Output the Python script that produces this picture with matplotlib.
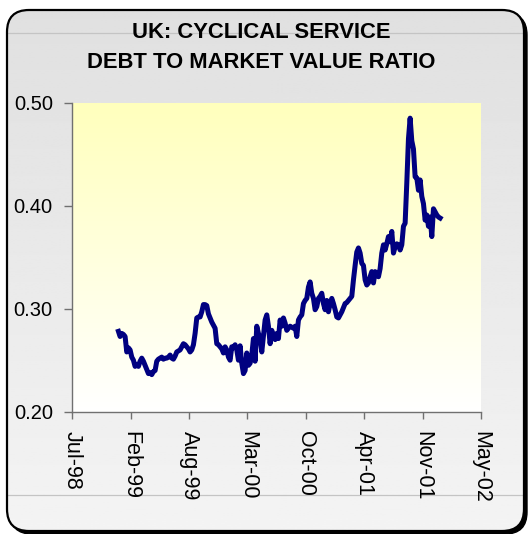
import numpy as np
import pandas as pd
import matplotlib
matplotlib.use("Agg")
import matplotlib.pyplot as plt
import matplotlib.dates as mdates
from matplotlib.patches import FancyBboxPatch
from matplotlib.lines import Line2D

plt.rcParams['font.family'] = ['Liberation Sans', 'DejaVu Sans']

title_lines = ["UK: CYCLICAL SERVICE", "DEBT TO MARKET VALUE RATIO"]

# debt / market value ratio, roughly weekly from end of Dec-98 to early Jan-02
ratio = [
    0.278, 0.273, 0.276, 0.275, 0.273, 0.258, 0.262, 0.260, 0.253, 0.250,
    0.244, 0.246, 0.244, 0.249, 0.252, 0.249, 0.245, 0.241, 0.237, 0.238,
    0.236, 0.239, 0.240, 0.249, 0.251, 0.252, 0.253, 0.251, 0.252, 0.252,
    0.253, 0.255, 0.252, 0.251, 0.254, 0.258, 0.259, 0.260, 0.263, 0.266,
    0.265, 0.263, 0.261, 0.258, 0.260, 0.265, 0.276, 0.291, 0.292, 0.292,
    0.297, 0.304, 0.304, 0.303, 0.295, 0.291, 0.287, 0.284, 0.281, 0.266,
    0.265, 0.263, 0.261, 0.257, 0.263, 0.260, 0.253, 0.250, 0.263, 0.262,
    0.265, 0.260, 0.250, 0.264, 0.247, 0.237, 0.240, 0.257, 0.245, 0.247,
    0.255, 0.271, 0.249, 0.283, 0.276, 0.271, 0.258, 0.273, 0.289, 0.294,
    0.283, 0.266, 0.279, 0.273, 0.270, 0.276, 0.271, 0.289, 0.283, 0.291,
    0.286, 0.279, 0.281, 0.283, 0.282, 0.281, 0.283, 0.273, 0.289, 0.292,
    0.294, 0.305, 0.308, 0.310, 0.321, 0.326, 0.315, 0.310, 0.299, 0.302,
    0.310, 0.312, 0.315, 0.305, 0.299, 0.308, 0.297, 0.305, 0.310, 0.305,
    0.299, 0.292, 0.291, 0.294, 0.297, 0.301, 0.305, 0.306, 0.308, 0.310,
    0.312, 0.328, 0.342, 0.355, 0.359, 0.354, 0.344, 0.342, 0.328, 0.323,
    0.325, 0.331, 0.336, 0.325, 0.336, 0.334, 0.331, 0.339, 0.354, 0.362,
    0.357, 0.363, 0.370, 0.365, 0.375, 0.354, 0.360, 0.363, 0.362, 0.357,
    0.362, 0.380, 0.383, 0.422, 0.465, 0.485, 0.463, 0.455, 0.428, 0.427,
    0.415, 0.425, 0.409, 0.402, 0.386, 0.391, 0.380, 0.389, 0.370, 0.397,
    0.394, 0.391, 0.389, 0.388,
]
dates = pd.date_range("1998-12-30", "2002-01-05", periods=len(ratio))

# date axis ticks every 200 days, Jul-98 .. May-02
tick_dates = pd.date_range("1998-07-25", periods=8, freq="200D")
y_ticks = [0.20, 0.30, 0.40, 0.50]

W, H = 529, 534
fig = plt.figure(figsize=(W / 100, H / 100), dpi=100)
fig.patch.set_facecolor("white")

# rounded grey panel with a dark drop shadow
bg = fig.add_axes([0, 0, 1, 1], zorder=-1)
bg.set_xlim(0, W)
bg.set_ylim(0, H)
bg.axis("off")
shadow = FancyBboxPatch((10, 0), 517, 521, boxstyle="round,pad=0,rounding_size=22",
                        fc="black", ec="black", lw=1)
bg.add_patch(shadow)
panel = FancyBboxPatch((7, 3), 517, 521, boxstyle="round,pad=0,rounding_size=22",
                       fc="none", ec="black", lw=1.6, zorder=3)
grey = np.linspace(0.955, 0.878, 256).reshape(-1, 1)
img = bg.imshow(grey, cmap="gray", vmin=0, vmax=1, extent=[7, 524, 3, 524],
                aspect="auto", origin="lower", zorder=1)
clip = FancyBboxPatch((7, 3), 517, 521, boxstyle="round,pad=0,rounding_size=22",
                      fc="none", ec="none", transform=bg.transData)
img.set_clip_path(clip)
bg.add_patch(panel)
for yy in (H - 33, H - 495):
    bg.add_line(Line2D([8, 523], [yy, yy], color="#c4c4c4", lw=0.9, zorder=2))

fig.text(0.494, (H - 32) / H, title_lines[0], ha="center", va="center",
         fontsize=15.8, fontweight="bold")
fig.text(0.494, (H - 63) / H, title_lines[1], ha="center", va="center",
         fontsize=15.8, fontweight="bold")

ax = fig.add_axes([72.3 / W, 122.3 / H, (481 - 72.3) / W, (411.7 - 102.7) / H])
ax.set_facecolor("none")

# yellow-to-white fill of the plot area
grad = np.ones((256, 1, 3))
grad[:, 0, 2] = np.linspace(1.0, 0.74, 256)
ax.imshow(grad, extent=[0, 1, 0, 1], transform=ax.transAxes, aspect="auto",
          origin="lower", zorder=0)

ax.plot(dates, ratio, color="#000080", lw=3.6, solid_joinstyle="round", zorder=2)

ax.set_xlim(tick_dates[0], tick_dates[-1])
ax.set_ylim(0.20, 0.50)
ax.set_xticks(tick_dates)
ax.xaxis.set_major_formatter(mdates.DateFormatter("%b-%y"))
ax.set_yticks(y_ticks)
ax.set_yticklabels([f"{v:.2f}" for v in y_ticks])

for side in ("top", "right"):
    ax.spines[side].set_visible(False)
for side in ("left", "bottom"):
    ax.spines[side].set_color("#707070")
    ax.spines[side].set_linewidth(1.0)

ax.tick_params(axis="y", length=6, width=1, color="#707070", labelsize=14.5, pad=8)
ax.tick_params(axis="x", length=5, width=1, color="#707070", labelsize=15.5, pad=9)
for lbl in ax.get_xticklabels():
    lbl.set_rotation(-90)
    lbl.set_ha("center")
    lbl.set_va("top")

fig.savefig("out.png", dpi=100)
